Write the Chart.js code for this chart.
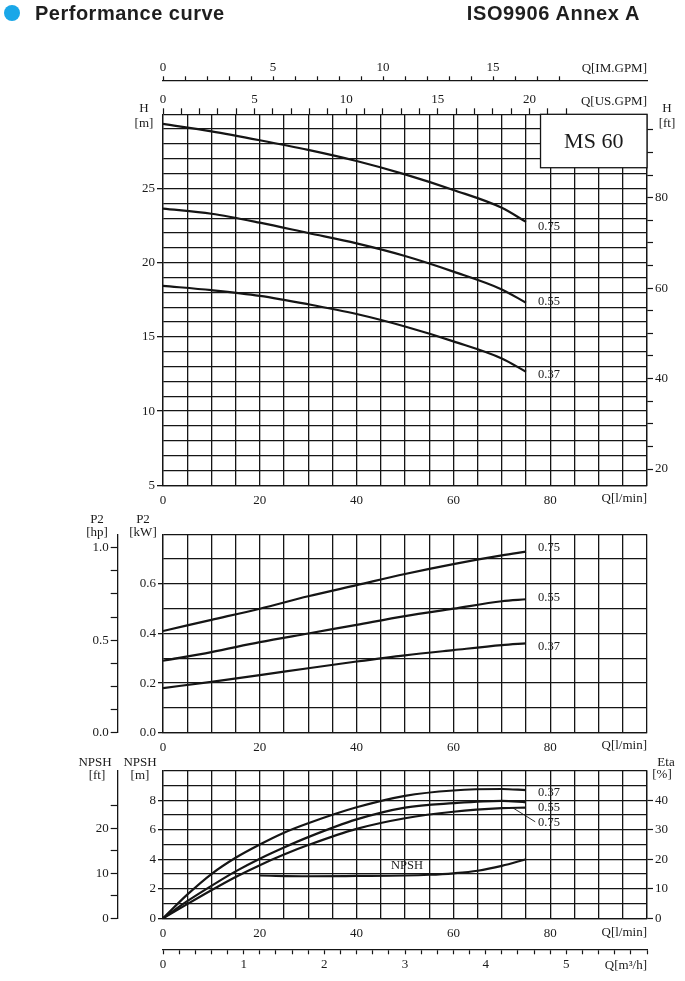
<!DOCTYPE html>
<html>
<head>
<meta charset="utf-8">
<title>MS 60 performance curve</title>
<script src="https://cdn.jsdelivr.net/npm/chart.js@4.4.1/dist/chart.umd.min.js"></script>
<style>
  html, body { margin: 0; padding: 0; background: #fff; }
  #page { position: relative; width: 685px; height: 981px; overflow: hidden; background: #fff; }
  #page canvas { position: absolute; left: 0; top: 0; }
  .dot { position: absolute; left: 4px; top: 5px; width: 16px; height: 16px; border-radius: 50%; background: #1aa7e8; }
  .head { position: absolute; top: 1px; font: bold 20px 'Liberation Sans', Arial, sans-serif; line-height: 24px; color: #1e1e1e; white-space: nowrap; letter-spacing: 0.5px; }
  #t1 { left: 35px; }
  #t2 { right: 45px; letter-spacing: 0.6px; }
</style>
</head>
<body>
<div id="page">
  <canvas id="headChart" width="685" height="981"></canvas>
  <canvas id="powerChart" width="685" height="981"></canvas>
  <canvas id="npshChart" width="685" height="981"></canvas>
  <div class="dot"></div>
  <div class="head" id="t1">Performance curve</div>
  <div class="head" id="t2">ISO9906 Annex A</div>
</div>
<script>
const SERIF = "'Liberation Serif', 'DejaVu Serif', serif";
Chart.defaults.font.family = SERIF;
Chart.defaults.font.size = 13;
Chart.defaults.color = '#1a1a1a';

const modelName = 'MS 60';
const motorKw = ['0.75', '0.55', '0.37'];

// flow (l/min) where head and power were read
const flowLpm = [0, 10, 20, 30, 40, 50, 60, 70, 75];
// head H [m]
const head075 = [29.35, 28.85, 28.25, 27.6, 26.85, 25.95, 24.9, 23.7, 22.75];
const head055 = [23.65, 23.3, 22.7, 22.0, 21.3, 20.45, 19.4, 18.2, 17.3];
const head037 = [18.44, 18.15, 17.77, 17.2, 16.54, 15.7, 14.7, 13.55, 12.65];
// shaft power P2 [kW]
const power075 = [0.41, 0.455, 0.50, 0.55, 0.595, 0.64, 0.68, 0.715, 0.73];
const power055 = [0.29, 0.325, 0.365, 0.40, 0.435, 0.47, 0.50, 0.53, 0.538];
const power037 = [0.18, 0.205, 0.232, 0.26, 0.287, 0.312, 0.333, 0.353, 0.36];
// efficiency Eta [%]
const etaFlow = [0, 5, 10, 15, 20, 25, 30, 40, 50, 60, 70, 75];
const eta037 = [0, 8, 15, 20.5, 25, 29, 32.2, 37.6, 41.5, 43.3, 43.8, 43.4];
const eta055 = [0, 5.8, 11, 15.9, 20.2, 24, 27.5, 33.5, 37.5, 39.0, 39.8, 39.3];
const eta075 = [0, 4.8, 9.5, 14, 18, 21.6, 24.8, 30.3, 33.9, 36.1, 37.3, 37.5];
// NPSH [m]
const npshFlow = [20, 30, 40, 50, 55, 60, 65, 70, 75];
const npshM = [2.9, 2.85, 2.87, 2.9, 2.95, 3.05, 3.22, 3.55, 4.0];

// where the annotations sit, in chart units
const labelQ = 77.5;
const headLabelAt = [22.45, 17.4, 12.45];
const powerLabelAt = [0.745, 0.543, 0.346];
const etaLabelAt = [42.4, 37.4, 32.3]; // 0.37, 0.55, 0.75 top-down
const leaderFrom = [72.3, 37.4];
const leaderTo = [76.9, 32.7];
const npshLabelAt = [50.4, 3.55];
const modelBoxAt = [78, 26.4];

const M_TO_FT = 3.28084, KW_PER_HP = 0.745699872, L_PER_USGAL = 3.785411784, L_PER_IMGAL = 4.54609;
const INK = '#151515';
const CLEAR = 'rgba(0,0,0,0)';

function pts(xs, ys) { return xs.map((x, i) => ({ x: x, y: ys[i] })); }
function near(v, step) { return Math.abs(v / step - Math.round(v / step)) < 1e-6; }
function curve(data, axis) {
  return { data: data, xAxisID: 'x', yAxisID: axis, borderColor: INK, borderWidth: 2.2,
    pointRadius: 0, fill: false, cubicInterpolationMode: 'monotone' };
}
function fixed(size) {
  return function (s) {
    if (s.isHorizontal()) s.height = size; else s.width = size;
    s.paddingLeft = 0; s.paddingRight = 0; s.paddingTop = 0; s.paddingBottom = 0;
  };
}
function flowAxis(size) {
  return {
    type: 'linear', position: 'bottom', min: 0, max: 100, afterFit: fixed(size),
    grid: { color: INK, lineWidth: 1.3, tickLength: 4, tickColor: CLEAR },
    border: { color: INK, width: 1.3 },
    ticks: { stepSize: 5, autoSkip: false, maxRotation: 0, padding: 3, includeBounds: false,
      callback: v => (near(v, 20) && v <= 80) ? String(v) : '' }
  };
}
// secondary unit axis: ticks only, no grid on the plot
function unitAxis(position, min, max, step, size, tickLen, showTick, label, weight, border) {
  return {
    type: 'linear', position: position, min: min, max: max, weight: weight || 0, afterFit: fixed(size),
    grid: { drawOnChartArea: false, tickLength: tickLen, tickWidth: 1.2,
      tickColor: ctx => showTick(ctx.tick.value) ? INK : CLEAR },
    border: { display: border, color: INK, width: 1.3 },
    ticks: { stepSize: step, autoSkip: false, maxRotation: 0, padding: position === 'top' ? 1 : 2,
      includeBounds: false, callback: label }
  };
}
function text(ctx, s, x, y, align, size) {
  ctx.font = (size || 13) + 'px ' + SERIF;
  ctx.textAlign = align || 'center';
  ctx.textBaseline = 'middle';
  ctx.fillStyle = '#1a1a1a';
  ctx.fillText(s, x, y);
}
const baseOpts = {
  responsive: false, animation: false, devicePixelRatio: 1,
  plugins: { legend: { display: false }, tooltip: { enabled: false } }
};

// ---- head chart ----
const headDecor = {
  id: 'headDecor',
  beforeDatasetsDraw(chart) {
    const { ctx, chartArea: a, scales: { x, y } } = chart;
    const bx = x.getPixelForValue(modelBoxAt[0]), by = y.getPixelForValue(modelBoxAt[1]);
    ctx.save();
    ctx.fillStyle = '#fff';
    ctx.fillRect(bx, a.top, a.right - bx, by - a.top);
    ctx.strokeStyle = INK; ctx.lineWidth = 1.3;
    ctx.strokeRect(bx, a.top, a.right - bx, by - a.top);
    text(ctx, modelName, (bx + a.right) / 2, (a.top + by) / 2 + 1, 'center', 22);
    ctx.restore();
  },
  afterDraw(chart) {
    const { ctx, chartArea: a, scales: { x, y } } = chart;
    ctx.save();
    headLabelAt.forEach((h, i) => text(ctx, motorKw[i], x.getPixelForValue(labelQ), y.getPixelForValue(h), 'left', 12.5));
    text(ctx, 'H', a.left - 19, a.top - 6);
    text(ctx, '[m]', a.left - 19, a.top + 9);
    text(ctx, 'H', a.right + 20, a.top - 6);
    text(ctx, '[ft]', a.right + 20, a.top + 9);
    text(ctx, 'Q[US.GPM]', a.right, a.top - 13, 'right');
    text(ctx, 'Q[IM.GPM]', a.right, a.top - 46, 'right');
    text(ctx, 'Q[l/min]', a.right, a.bottom + 13, 'right');
    ctx.restore();
  }
};
new Chart(document.getElementById('headChart'), {
  type: 'line',
  data: { datasets: [
    curve(pts(flowLpm, head075), 'y'),
    curve(pts(flowLpm, head055), 'y'),
    curve(pts(flowLpm, head037), 'y')
  ] },
  options: Object.assign({}, baseOpts, {
    layout: { padding: { left: 100, right: 0, top: 50.3, bottom: 473.7 } },
    scales: {
      x: flowAxis(22),
      xUs: unitAxis('top', 0, 100 / L_PER_USGAL, 1, 34, 6, v => v <= 22,
        v => (near(v, 5) && v <= 20) ? String(v) : '', 0, false),
      xIm: unitAxis('top', 0, 100 / L_PER_IMGAL, 1, 30, 4, v => v <= 18,
        v => (near(v, 5) && v <= 15) ? String(v) : '', 1, true),
      y: {
        type: 'linear', position: 'left', min: 5, max: 30, afterFit: fixed(63),
        grid: { color: INK, lineWidth: 1.3, tickLength: 6,
          tickColor: ctx => (near(ctx.tick.value, 5) && ctx.tick.value < 30) ? INK : CLEAR },
        border: { color: INK, width: 1.3 },
        ticks: { stepSize: 1, autoSkip: false, padding: 2, includeBounds: false,
          callback: v => (near(v, 5) && v < 30) ? String(v) : '' }
      },
      yFt: unitAxis('right', 5 * M_TO_FT, 30 * M_TO_FT, 5, 38, 6, v => true,
        v => near(v, 20) ? String(v) : '', 0, true)
    }
  }),
  plugins: [headDecor]
});

// ---- power chart ----
const powerDecor = {
  id: 'powerDecor',
  afterDraw(chart) {
    const { ctx, chartArea: a, scales: { x, y } } = chart;
    ctx.save();
    powerLabelAt.forEach((p, i) => text(ctx, motorKw[i], x.getPixelForValue(labelQ), y.getPixelForValue(p), 'left', 12.5));
    text(ctx, 'P2', a.left - 66, a.top - 15);
    text(ctx, '[hp]', a.left - 66, a.top - 2);
    text(ctx, 'P2', a.left - 20, a.top - 15);
    text(ctx, '[kW]', a.left - 20, a.top - 2);
    text(ctx, 'Q[l/min]', a.right, a.bottom + 13, 'right');
    ctx.restore();
  }
};
new Chart(document.getElementById('powerChart'), {
  type: 'line',
  data: { datasets: [
    curve(pts(flowLpm, power075), 'y'),
    curve(pts(flowLpm, power055), 'y'),
    curve(pts(flowLpm, power037), 'y')
  ] },
  options: Object.assign({}, baseOpts, {
    layout: { padding: { left: 77.7, right: 38, top: 534.3, bottom: 226.3 } },
    scales: {
      x: flowAxis(22),
      yHp: unitAxis('left', 0, 0.8 / KW_PER_HP, 0.125, 40, 7, v => true,
        v => near(v, 0.5) ? v.toFixed(1) : '', 1, true),
      y: {
        type: 'linear', position: 'left', min: 0, max: 0.8, afterFit: fixed(45.3),
        grid: { color: INK, lineWidth: 1.3, tickLength: 5,
          tickColor: ctx => (near(ctx.tick.value, 0.2) && ctx.tick.value < 0.75) ? INK : CLEAR },
        border: { color: INK, width: 1.3 },
        ticks: { stepSize: 0.1, autoSkip: false, padding: 2, includeBounds: false,
          callback: v => (near(v, 0.2) && v < 0.75) ? v.toFixed(1) : '' }
      }
    }
  }),
  plugins: [powerDecor]
});

// ---- NPSH / efficiency chart ----
const npshDecor = {
  id: 'npshDecor',
  afterDraw(chart) {
    const { ctx, chartArea: a, scales: { x, y, eta } } = chart;
    ctx.save();
    ['0.37', '0.55', '0.75'].forEach((k, i) => text(ctx, k, x.getPixelForValue(labelQ), eta.getPixelForValue(etaLabelAt[i]), 'left', 12.5));
    ctx.strokeStyle = INK; ctx.lineWidth = 0.9;
    ctx.beginPath();
    ctx.moveTo(x.getPixelForValue(leaderFrom[0]), eta.getPixelForValue(leaderFrom[1]));
    ctx.lineTo(x.getPixelForValue(leaderTo[0]), eta.getPixelForValue(leaderTo[1]));
    ctx.stroke();
    text(ctx, 'NPSH', x.getPixelForValue(npshLabelAt[0]), y.getPixelForValue(npshLabelAt[1]), 'center', 12.5);
    text(ctx, 'NPSH', a.left - 68, a.top - 8);
    text(ctx, '[ft]', a.left - 66, a.top + 5);
    text(ctx, 'NPSH', a.left - 23, a.top - 8);
    text(ctx, '[m]', a.left - 23, a.top + 5);
    text(ctx, 'Eta', a.right + 19, a.top - 8);
    text(ctx, '[%]', a.right + 15, a.top + 4);
    text(ctx, 'Q[l/min]', a.right, a.bottom + 14, 'right');
    text(ctx, 'Q[m\u00b3/h]', a.right, a.bottom + 47, 'right');
    ctx.restore();
  }
};
new Chart(document.getElementById('npshChart'), {
  type: 'line',
  data: { datasets: [
    curve(pts(etaFlow, eta037), 'eta'),
    curve(pts(etaFlow, eta055), 'eta'),
    curve(pts(etaFlow, eta075), 'eta'),
    curve(pts(npshFlow, npshM), 'y')
  ] },
  options: Object.assign({}, baseOpts, {
    layout: { padding: { left: 77.7, right: 0, top: 770.7, bottom: 0 } },
    scales: {
      x: flowAxis(31),
      xM3: unitAxis('bottom', 0, 6, 0.2, 31.7, 5, v => true,
        v => (near(v, 1) && v < 5.5) ? String(Math.round(v)) : '', 1, true),
      yFt: unitAxis('left', 0, 10 * M_TO_FT, 5, 40, 7, v => v <= 25,
        v => (near(v, 10) && v <= 20) ? String(v) : '', 1, true),
      y: {
        type: 'linear', position: 'left', min: 0, max: 10, afterFit: fixed(45.3),
        grid: { color: INK, lineWidth: 1.3, tickLength: 5,
          tickColor: ctx => (near(ctx.tick.value, 2) && ctx.tick.value < 9) ? INK : CLEAR },
        border: { color: INK, width: 1.3 },
        ticks: { stepSize: 1, autoSkip: false, padding: 2, includeBounds: false,
          callback: v => (near(v, 2) && v < 9) ? String(v) : '' }
      },
      eta: unitAxis('right', 0, 50, 10, 38, 6, v => v <= 40,
        v => v <= 40 ? String(v) : '', 0, true)
    }
  }),
  plugins: [npshDecor]
});
</script>
</body>
</html>
